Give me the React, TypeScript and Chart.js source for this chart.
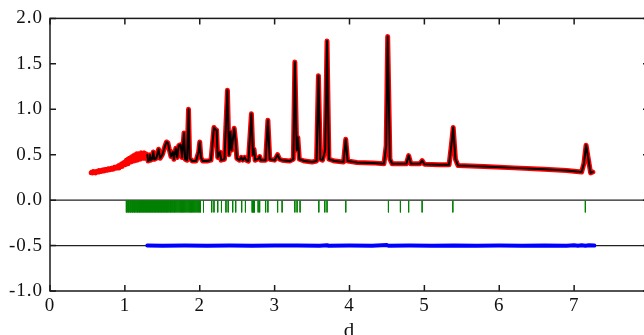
import React, { useEffect, useRef } from "react";
import { Chart, registerables } from "chart.js";

Chart.register(...registerables);

// Observed intensity below the calculated range (d, I)
const observedLowD: [number, number][] = [
  [0.55, 0.30], [0.56, 0.31], [0.57, 0.30], [0.58, 0.315], [0.59, 0.305], [0.60, 0.31],
  [0.61, 0.30], [0.62, 0.315], [0.63, 0.31], [0.64, 0.32], [0.65, 0.31], [0.66, 0.325],
  [0.67, 0.315], [0.68, 0.325], [0.69, 0.32], [0.70, 0.33], [0.71, 0.32], [0.72, 0.335],
  [0.73, 0.325], [0.74, 0.335], [0.75, 0.33], [0.76, 0.34], [0.77, 0.33], [0.78, 0.345],
  [0.79, 0.335], [0.80, 0.345], [0.81, 0.34], [0.82, 0.35], [0.83, 0.34], [0.84, 0.355],
  [0.85, 0.345], [0.86, 0.36], [0.87, 0.35], [0.88, 0.365], [0.89, 0.355], [0.90, 0.37],
  [0.91, 0.355], [0.92, 0.38], [0.93, 0.365], [0.94, 0.39], [0.95, 0.37], [0.96, 0.40],
  [0.97, 0.38], [0.98, 0.41], [0.99, 0.39], [1.00, 0.42], [1.01, 0.39], [1.02, 0.44],
  [1.03, 0.40], [1.04, 0.45], [1.05, 0.41], [1.06, 0.46], [1.07, 0.42], [1.08, 0.47],
  [1.09, 0.43], [1.10, 0.48], [1.11, 0.43], [1.12, 0.49], [1.13, 0.44], [1.14, 0.50],
  [1.15, 0.44], [1.16, 0.51], [1.17, 0.45], [1.18, 0.51], [1.19, 0.45], [1.20, 0.51],
  [1.21, 0.46], [1.22, 0.52], [1.23, 0.46], [1.24, 0.51], [1.25, 0.46], [1.26, 0.52],
  [1.27, 0.46], [1.28, 0.51], [1.29, 0.47],
];

// Calculated profile (d, I)
const calculated: [number, number][] = [
  [1.300, 0.50], [1.310, 0.43], [1.325, 0.44], [1.335, 0.50], [1.345, 0.44], [1.365, 0.45],
  [1.380, 0.53], [1.395, 0.45], [1.420, 0.46], [1.450, 0.56], [1.470, 0.46], [1.500, 0.50],
  [1.530, 0.58], [1.555, 0.64], [1.575, 0.63], [1.595, 0.55], [1.615, 0.48], [1.640, 0.53],
  [1.655, 0.45], [1.680, 0.57], [1.700, 0.47], [1.720, 0.60], [1.745, 0.61], [1.765, 0.47],
  [1.790, 0.74], [1.805, 0.45], [1.830, 0.44], [1.850, 1.00], [1.865, 0.46], [1.900, 0.43],
  [1.950, 0.43], [1.985, 0.53], [2.000, 0.64], [2.015, 0.47], [2.040, 0.43], [2.100, 0.43],
  [2.150, 0.44], [2.190, 0.80], [2.205, 0.78], [2.225, 0.77], [2.240, 0.47], [2.270, 0.53],
  [2.285, 0.44], [2.330, 0.45], [2.370, 1.21], [2.390, 0.50], [2.410, 0.75], [2.425, 0.55],
  [2.460, 0.79], [2.480, 0.64], [2.495, 0.46], [2.530, 0.44], [2.555, 0.47], [2.575, 0.44],
  [2.600, 0.47], [2.620, 0.44], [2.650, 0.43], [2.690, 0.95], [2.710, 0.50], [2.725, 0.56],
  [2.740, 0.44], [2.790, 0.46], [2.800, 0.48], [2.815, 0.44], [2.880, 0.44], [2.910, 0.88],
  [2.935, 0.45], [3.000, 0.44], [3.040, 0.50], [3.065, 0.45], [3.100, 0.44], [3.200, 0.43],
  [3.250, 0.45], [3.270, 1.52], [3.295, 0.55], [3.310, 0.69], [3.330, 0.45], [3.400, 0.43],
  [3.500, 0.42], [3.560, 0.43], [3.585, 1.37], [3.610, 0.45], [3.640, 0.44], [3.675, 0.55],
  [3.700, 1.75], [3.725, 0.45], [3.800, 0.43], [3.920, 0.42], [3.950, 0.67], [3.975, 0.43],
  [4.100, 0.415], [4.300, 0.41], [4.460, 0.40], [4.490, 0.60], [4.510, 1.80], [4.540, 0.45],
  [4.570, 0.40], [4.760, 0.40], [4.790, 0.49], [4.820, 0.40], [4.940, 0.40], [4.970, 0.435],
  [5.000, 0.395], [5.200, 0.39], [5.330, 0.39], [5.360, 0.60], [5.385, 0.80], [5.415, 0.45],
  [5.450, 0.38], [5.800, 0.37], [6.200, 0.355], [6.600, 0.34], [6.900, 0.325], [7.100, 0.31],
  [7.130, 0.40], [7.160, 0.605], [7.190, 0.45], [7.220, 0.30], [7.250, 0.31],
];

// Difference curve (obs - calc, offset to -0.5)
const difference: [number, number][] = [
  [1.30, -0.50], [1.50, -0.502], [1.80, -0.50], [2.10, -0.502], [2.40, -0.50], [2.70, -0.502],
  [3.00, -0.50], [3.30, -0.498], [3.60, -0.502], [3.70, -0.496], [3.72, -0.502], [4.00, -0.50],
  [4.30, -0.502], [4.50, -0.495], [4.52, -0.502], [4.80, -0.50], [5.10, -0.502], [5.40, -0.498],
  [5.70, -0.502], [6.00, -0.50], [6.30, -0.502], [6.60, -0.498], [6.90, -0.502], [7.00, -0.497],
  [7.05, -0.503], [7.10, -0.497], [7.15, -0.503], [7.20, -0.497], [7.27, -0.50],
];

// Reflection positions (d)
const reflections: number[] = [
  1.02, 1.03, 1.045, 1.055, 1.07, 1.08, 1.095, 1.105, 1.12, 1.13, 1.145, 1.16, 1.17, 1.185,
  1.195, 1.21, 1.22, 1.235, 1.25, 1.26, 1.275, 1.29, 1.30, 1.315, 1.33, 1.34, 1.355, 1.37,
  1.38, 1.395, 1.41, 1.42, 1.435, 1.45, 1.46, 1.475, 1.49, 1.50, 1.515, 1.53, 1.545, 1.555,
  1.57, 1.585, 1.60, 1.61, 1.625, 1.64, 1.655, 1.665, 1.68, 1.695, 1.71, 1.725, 1.74, 1.755,
  1.77, 1.785, 1.80, 1.815, 1.83, 1.845, 1.86, 1.875, 1.89, 1.905, 1.92, 1.935, 1.95, 1.965,
  1.98, 1.995, 2.01, 2.05, 2.16, 2.19, 2.24, 2.29, 2.35, 2.38, 2.44, 2.48, 2.56, 2.61, 2.70,
  2.71, 2.72, 2.73, 2.78, 2.80, 2.88, 2.91, 3.04, 3.10, 3.27, 3.30, 3.34, 3.59, 3.67, 3.70,
  3.95, 4.52, 4.68, 4.79, 4.97, 5.38, 7.15,
];
const reflectionTop = -0.005;
const reflectionBottom = -0.135;

const zeroLines: number[] = [0, -0.5];

const X_MIN = 0, X_MAX = 8, Y_MIN = -1, Y_MAX = 2;

const toXY = (arr: [number, number][]) => arr.map(([x, y]) => ({ x, y }));

const framePlugin = {
  id: "frame",
  beforeDraw(chart: any) {
    try { chart.ctx.letterSpacing = "1px"; } catch (e) { /* ignore */ }
  },
  afterDraw(chart: any) {
    const { ctx, chartArea, scales } = chart;
    const { left, right, top, bottom } = chartArea;
    const xs = scales.x, ys = scales.y;
    ctx.save();
    ctx.strokeStyle = "#1a1a1a";
    ctx.lineWidth = 1.5;
    ctx.strokeRect(left, top, right - left, bottom - top);
    ctx.beginPath();
    const tl = 6;
    xs.ticks.forEach((t: any) => {
      const px = xs.getPixelForValue(t.value);
      ctx.moveTo(px, bottom);
      ctx.lineTo(px, bottom - tl);
      ctx.moveTo(px, top);
      ctx.lineTo(px, top + tl);
    });
    ys.ticks.forEach((t: any) => {
      const py = ys.getPixelForValue(t.value);
      ctx.moveTo(left, py);
      ctx.lineTo(left + tl, py);
      ctx.moveTo(right, py);
      ctx.lineTo(right - tl, py);
    });
    ctx.stroke();
    ctx.restore();
  },
};

export default function App() {
  const ref = useRef<HTMLCanvasElement>(null);
  useEffect(() => {
    if (!ref.current) return;
    const tickData: any[] = [];
    reflections.forEach((d) => {
      tickData.push({ x: d, y: reflectionTop });
      tickData.push({ x: d, y: reflectionBottom });
      tickData.push({ x: d, y: null });
    });
    const hLines: any[] = [];
    zeroLines.forEach((v) => {
      hLines.push({ x: X_MIN, y: v });
      hLines.push({ x: X_MAX, y: v });
      hLines.push({ x: X_MAX, y: null });
    });
    const font = { family: "'Liberation Serif', 'Times New Roman', serif", size: 19 };
    const lineCommon = { pointRadius: 0, borderJoinStyle: "round", borderCapStyle: "round", tension: 0 };
    const chart = new Chart(ref.current, {
      type: "line",
      data: {
        datasets: [
          {
            label: "zero",
            data: hLines,
            borderColor: "#222",
            borderWidth: 1.2,
            pointRadius: 0,
            spanGaps: false,
            order: 5,
          },
          {
            label: "obs",
            data: toXY([...observedLowD, ...calculated]),
            borderColor: "#ff0000",
            borderWidth: 5,
            ...lineCommon,
            order: 4,
          },
          {
            label: "calc",
            data: toXY(calculated),
            borderColor: "#000000",
            borderWidth: 2,
            ...lineCommon,
            order: 3,
          },
          {
            label: "reflections",
            data: tickData,
            borderColor: "#008000",
            borderWidth: 1,
            pointRadius: 0,
            spanGaps: false,
            order: 2,
          },
          {
            label: "diff",
            data: toXY(difference),
            borderColor: "#0000ff",
            borderWidth: 4,
            ...lineCommon,
            order: 1,
          },
        ],
      } as any,
      options: {
        animation: false,
        responsive: false,
        devicePixelRatio: 1,
        layout: { padding: { top: 15, right: 11, left: 0, bottom: 0 } },
        plugins: { legend: { display: false }, tooltip: { enabled: false } },
        scales: {
          x: {
            type: "linear",
            min: X_MIN,
            max: X_MAX,
            grid: { display: false, drawTicks: false },
            border: { display: false },
            ticks: { stepSize: 1, color: "#111", font, padding: 4, maxRotation: 0 },
            title: {
              display: true,
              text: "d",
              color: "#111",
              font: { family: font.family, size: 21 },
              padding: { top: 0, bottom: 1 },
            },
            afterFit: (s: any) => { s.height = 54; },
          },
          y: {
            type: "linear",
            min: Y_MIN,
            max: Y_MAX,
            grid: { display: false, drawTicks: false },
            border: { display: false },
            ticks: {
              stepSize: 0.5,
              color: "#111",
              font,
              padding: 7,
              callback: (v: any) => Number(v).toFixed(1),
            },
            afterFit: (s: any) => { s.width = 50; },
          },
        },
      },
      plugins: [framePlugin],
    } as any);
    return () => chart.destroy();
  }, []);
  return (
    <div style={{ position: "fixed", left: 0, top: 0, width: 644, height: 335, overflow: "hidden", background: "#fff" }}>
      <canvas ref={ref} width={660} height={345} style={{ width: 660, height: 345, display: "block" }} />
    </div>
  );
}
